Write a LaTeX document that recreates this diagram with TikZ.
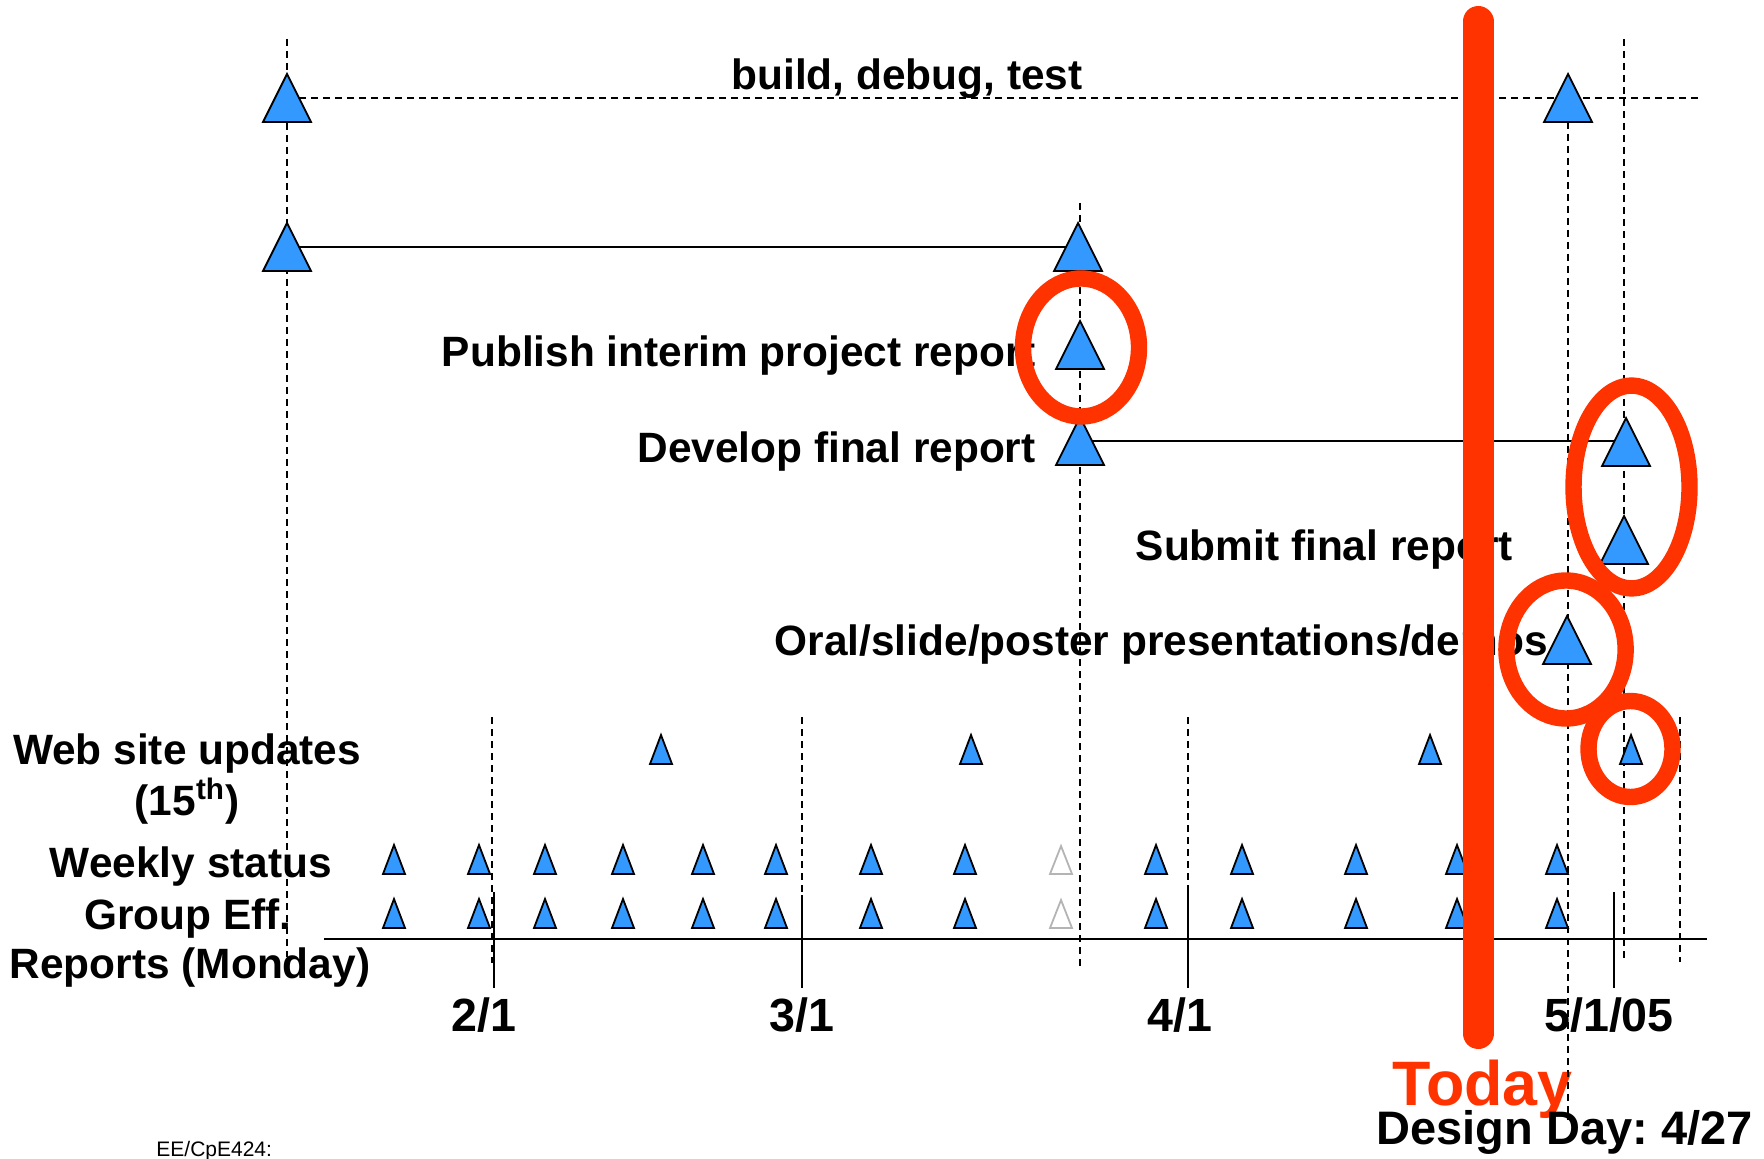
\documentclass[tikz,border=0pt]{standalone}
\usepackage{fontspec}
\setmainfont{Liberation Sans}
\definecolor{msblue}{HTML}{3399FF}
\definecolor{todayred}{HTML}{FF3300}
\definecolor{msgrey}{HTML}{B4B4B4}
\frenchspacing
\begin{document}
\begin{tikzpicture}[x=0.5pt,y=-0.5pt,
  lbl/.style={inner sep=0pt, font=\fontsize{21.2}{25}\selectfont\bfseries},
  datelbl/.style={inner sep=0pt, font=\fontsize{23.3}{27}\selectfont\bfseries},
  dline/.style={dash pattern=on 3.5pt off 2.5pt, line width=0.9pt},
  sline/.style={line width=1.2pt},
  axline/.style={line width=1.1pt},
  ms/.style={fill=msblue, draw=black, line width=0.9pt, line join=miter},
  msg/.style={fill=white, draw=msgrey, line width=0.9pt, line join=miter},
  ring/.style={draw=todayred, line width=8.2pt},
  bigms/.pic={\filldraw[ms] (-24,0) -- (0,-48) -- (24,0) -- cycle;},
  smallms/.pic={\filldraw[ms] (-11,0) -- (0,-29) -- (11,0) -- cycle;},
  greyms/.pic={\filldraw[msg] (-11,0) -- (0,-28) -- (11,0) -- cycle;}
]
\useasboundingbox (0,0) rectangle (1764,1159);

% ---------- texts ----------
\node[lbl, anchor=base west] (build) at (731,90) {build, debug, test};
\node[lbl, anchor=base east] (pub) at (1036,367) {Publish interim project report};
\node[lbl, anchor=base east] (dev) at (1036,463) {Develop final report};
\node[lbl, anchor=base east] (sub) at (1513,560) {Submit final report};
\node[lbl, anchor=base east] (oral) at (1548,655) {Oral/slide/poster presentations/demos};
\node[lbl, anchor=base] (web) at (187,764) {Web site updates};
\node[lbl, anchor=base] (fif) at (187,815) {(15\textsuperscript{th})};
\node[lbl, anchor=base] (wk) at (191,877) {Weekly status};
\node[lbl, anchor=base] (ge) at (188,929) {Group Eff.};
\node[lbl, anchor=base] (rep) at (190,978) {Reports (Monday)};
\node[datelbl, anchor=base] (feb) at (484,1031) {2/1};
\node[datelbl, anchor=base] (mar) at (802,1031) {3/1};
\node[datelbl, anchor=base] (apr) at (1180,1031) {4/1};
\node[datelbl, anchor=base] (may) at (1609,1031) {5/1/05};
\node[inner sep=0pt, anchor=base west, text=todayred,
      font=\fontsize{31.4}{36}\selectfont\bfseries] (today) at (1392,1105) {Today};
\node[inner sep=0pt, anchor=base west,
      font=\fontsize{23.5}{28}\selectfont\bfseries] (dday) at (1376,1144) {Design Day: 4/27};
\node[inner sep=0pt, anchor=base west,
      font=\fontsize{10.5}{12}\selectfont] (ee) at (156,1156) {EE/CpE424:};

% ---------- milestone coordinates ----------
\coordinate (bS) at (287,122);
\coordinate (bE) at (1568,122);
\coordinate (rS) at (287,271);
\coordinate (rE) at (1078,271);
\coordinate (iR) at (1080,369);
\coordinate (fS) at (1080,465);
\coordinate (fE) at (1626,466);
\coordinate (sF) at (1624,564);
\coordinate (oP) at (1567,664);

% ---------- vertical dashed guide lines ----------
\coordinate (g1t) at (287,39);   \coordinate (g1b) at (287,957);
\coordinate (g2t) at (1080,203); \coordinate (g2b) at (1080,967);
\coordinate (g3t) at (1568,122); \coordinate (g3b) at (1568,1120);
\coordinate (g4t) at (1624,39);  \coordinate (g4b) at (1624,958);
\coordinate (g5t) at (1680,717); \coordinate (g5b) at (1680,962);
\draw[dline] (g1t) -- (g1b);
\draw[dline] (g2t) -- (g2b);
\draw[dline] (g3t) -- (g3b);
\draw[dline] (g4t) -- (g4b);
\draw[dline] (g5t) -- (g5b);

% month guide lines
\coordinate (m1t) at (492,717);  \coordinate (m1b) at (492,963);
\coordinate (m2t) at (802,717);  \coordinate (m2b) at (802,895);
\coordinate (m3t) at (1188,717); \coordinate (m3b) at (1188,890);
\draw[dline] (m1t) -- (m1b);
\draw[dline] (m2t) -- (m2b);
\draw[dline] (m3t) -- (m3b);
\coordinate (k1t) at (494,892);  \coordinate (k1b) at (494,988);
\coordinate (k2t) at (802,895);  \coordinate (k2b) at (802,988);
\coordinate (k3t) at (1188,890); \coordinate (k3b) at (1188,988);
\coordinate (k4t) at (1614,892); \coordinate (k4b) at (1614,988);
\draw[axline] (k1t) -- (k1b);
\draw[axline] (k2t) -- (k2b);
\draw[axline] (k3t) -- (k3b);
\draw[axline] (k4t) -- (k4b);

% axis
\coordinate (axL) at (324,939); \coordinate (axR) at (1707,939);
\draw[axline] (axL) -- (axR);

% ---------- task bars ----------
\coordinate (bL) at (287,98);   \coordinate (bR) at (1699,98);
\draw[dline] (bL) -- (bR);
\coordinate (r2L) at (287,247); \coordinate (r2R) at (1078,247);
\draw[sline] (r2L) -- (r2R);
\coordinate (r4L) at (1080,441); \coordinate (r4R) at (1626,441);
\draw[sline] (r4L) -- (r4R);

% ---------- big milestones ----------
\foreach \c in {bS,bE,rS,rE,iR,fS,fE,sF,oP} {\pic at (\c) {bigms};}

% ---------- web site updates ----------
\foreach \xx in {661,971,1430,1631} {\pic at (\xx,764) {smallms};}

% ---------- weekly status / group eff ----------
\foreach \xx in {394,479,545,623,703,776,871,965,1156,1242,1356,1457,1557} {
  \pic at (\xx,874) {smallms};
  \pic at (\xx,928) {smallms};
}
\pic at (1061,874) {greyms};
\pic at (1061,928) {greyms};

% ---------- highlight rings ----------
\draw[ring] (1081,347.5) ellipse [x radius=29pt, y radius=34.5pt];
\draw[ring] (1631.5,487) ellipse [x radius=29pt, y radius=50.7pt];
\draw[ring] (1566,649.5) ellipse [x radius=29.8pt, y radius=34.5pt];
\draw[ring] (1630.5,749) ellipse [x radius=21pt, y radius=24pt];

% ---------- today line ----------
\coordinate (tTop) at (1478,21.5); \coordinate (tBot) at (1478,1033.5);
\draw[todayred, line width=15.5pt, line cap=round] (tTop) -- (tBot);
\end{tikzpicture}
\end{document}
